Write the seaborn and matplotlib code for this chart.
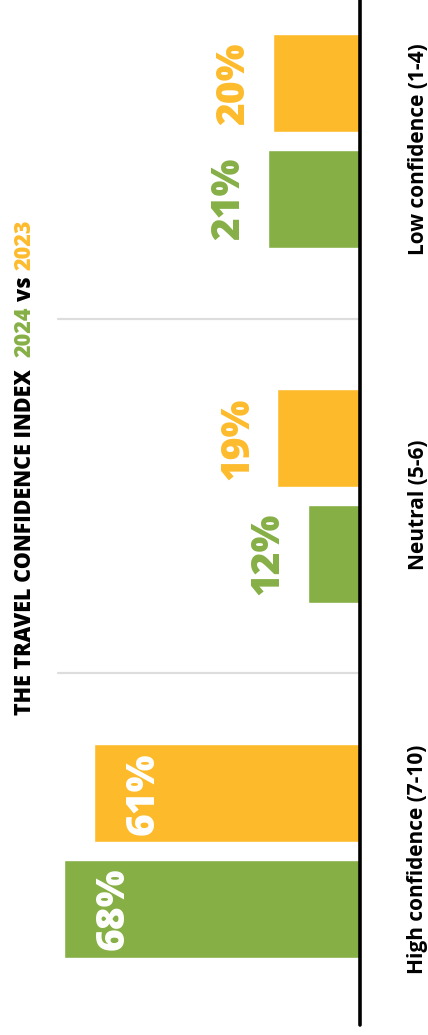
import matplotlib
matplotlib.use("Agg")
import matplotlib.pyplot as plt
import matplotlib.transforms as mtransforms
import seaborn as sns
import pandas as pd

# ---- data ----
categories = ["Low confidence (1-4)", "Neutral (5-6)", "High confidence (7-10)"]
years = ["2023", "2024"]
values_2023 = [20, 19, 61]
values_2024 = [21, 12, 68]
title_main = "THE TRAVEL CONFIDENCE INDEX"
title_year_a = "2024"
title_vs = "vs"
title_year_b = "2023"

GREEN = "#86B046"
ORANGE = "#FDBB2C"
palette = {"2023": ORANGE, "2024": GREEN}

df = pd.DataFrame({
    "category": categories * 2,
    "year": ["2023"] * 3 + ["2024"] * 3,
    "value": values_2023 + values_2024,
})

sns.set_theme(style="white")
plt.rcParams["font.family"] = ["Open Sans", "DejaVu Sans"]

W, H, DPI = 428, 1035, 100
fig = plt.figure(figsize=(W / DPI, H / DPI), dpi=DPI)
ax = fig.add_axes([0, 0, 1, 1])

sns.barplot(data=df, y="category", x="value", hue="year", order=categories,
            hue_order=years, palette=palette, orient="h", width=0.648, gap=0.148,
            saturation=1, errorbar=None, legend=False, ax=ax)

PX = 4.36            # pixels per percentage point
BASE_PX = 360        # baseline pixel position
SPACING = 355        # pixels between category centres
FIRST = 141          # pixel centre of first category
ax.set_xlim(BASE_PX / PX, -(W - BASE_PX) / PX)
ax.set_ylim((len(categories) - 1) + (H - (FIRST + SPACING * (len(categories) - 1))) / SPACING,
            -FIRST / SPACING)
ax.axis("off")

# baseline
ax.axvline(0, ymin=10 / H, ymax=1, color="black", lw=2.6, zorder=5)

# separators between categories
for i in range(len(categories) - 1):
    ax.axhline(i + 0.5, xmin=58 / W, xmax=358 / W, color="#dddddd", lw=1.6, zorder=0)

# category labels
blend = mtransforms.blended_transform_factory(ax.transAxes, ax.transData)
for i, cat in enumerate(categories):
    ax.annotate(cat, xy=(418 / W, i), xycoords=blend, xytext=(0, -6),
                textcoords="offset points", rotation=90, ha="center", va="center",
                fontsize=15, fontweight="bold", color="black")

# value labels
for container in ax.containers:
    for bar in container:
        v = bar.get_width()
        yc = bar.get_y() + bar.get_height() / 2
        fc = bar.get_facecolor()
        if v > 40:
            ax.annotate(f"{v:.0f}%", xy=(v, yc), xytext=(30 * 0.72, 0),
                        textcoords="offset points", rotation=90, ha="left", va="center",
                        color="white", fontsize=28, fontweight=800)
        else:
            ax.annotate(f"{v:.0f}%", xy=(v, yc), xytext=(-20 * 0.72, 0),
                        textcoords="offset points", rotation=90, ha="right", va="center",
                        color=fc, fontsize=28, fontweight=800)

# multi-coloured rotated title
fig.canvas.draw()
renderer = fig.canvas.get_renderer()
pieces = [(title_main, "black", 12), (title_year_a, GREEN, 6),
          (title_vs, "black", 6), (title_year_b, ORANGE, 0)]
x0 = 31 / W
y = 1 - 715 / H
for text, color, gap in pieces:
    t = fig.text(x0, y, text, rotation=90, rotation_mode="anchor", ha="left",
                 va="baseline", color=color, fontsize=15.5, fontweight=800)
    bb = t.get_window_extent(renderer)
    y += (bb.height + gap) / H

fig.savefig("out.png", dpi=DPI)
